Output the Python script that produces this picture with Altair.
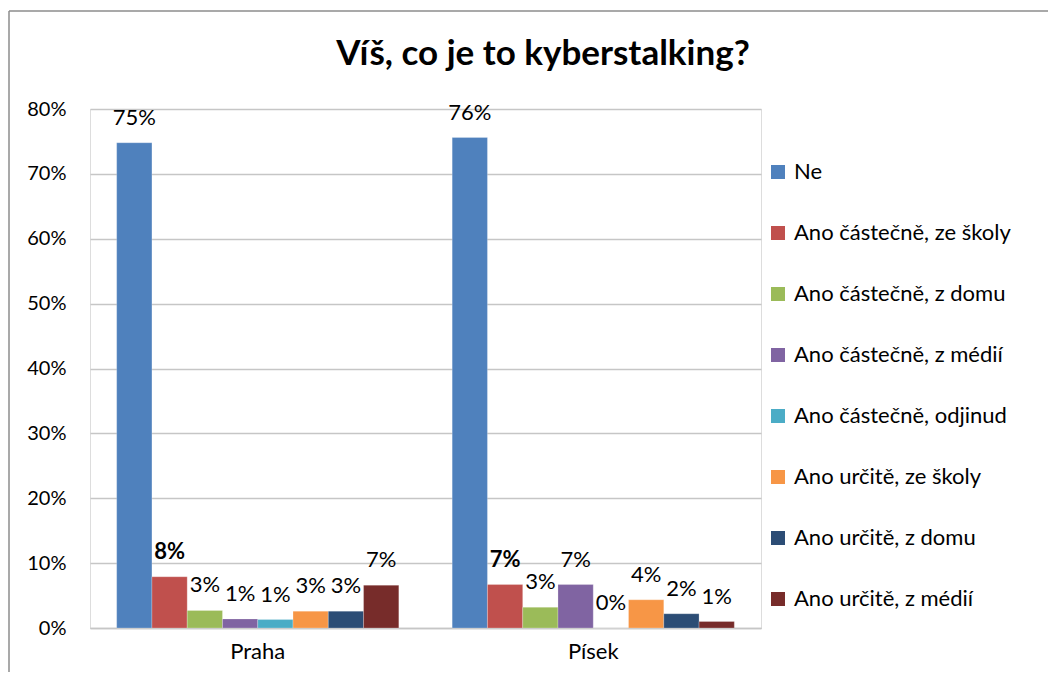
import altair as alt
import pandas as pd

series = ["Ne", "Ano částečně, ze školy", "Ano částečně, z domu", "Ano částečně, z médií",
          "Ano částečně, odjinud", "Ano určitě, ze školy", "Ano určitě, z domu", "Ano určitě, z médií"]
cities = ["Praha", "Písek"]
praha = [0.748, 0.079, 0.027, 0.014, 0.013, 0.026, 0.026, 0.066]
pisek = [0.756, 0.067, 0.032, 0.067, 0.0, 0.0435, 0.022, 0.010]
colors = ["#4F81BD", "#C0504D", "#9BBB59", "#8064A2", "#4BACC6", "#F79646", "#2C4D75", "#772C2A"]
y_ticks = [0, 0.1, 0.2, 0.3, 0.4, 0.5, 0.6, 0.7, 0.8]
title_text = "Víš, co je to kyberstalking?"

rows = []
for city, vals in zip(cities, [praha, pisek]):
    for s, v in zip(series, vals):
        rows.append({"city": city, "series": s, "value": v})
df = pd.DataFrame(rows)

FONT = "Lato"
GRID = "#C6C6C6"

x_enc = alt.X("city:N", sort=cities,
              scale=alt.Scale(paddingInner=0.159, paddingOuter=0.0795),
              axis=alt.Axis(title=None, labelAngle=0, domain=True, domainColor=GRID, domainWidth=1.5,
                            ticks=False, labelFontSize=22, labelFont=FONT, labelColor="#000000",
                            labelPadding=13))
xoff = alt.XOffset("series:N", sort=series, scale=alt.Scale(paddingInner=0, paddingOuter=0))
y_enc = alt.Y("value:Q", scale=alt.Scale(domain=[0, 0.8], nice=False),
              axis=alt.Axis(title=None, values=y_ticks, format=".0%", domain=False, ticks=False,
                            grid=True, gridColor=GRID, gridWidth=1.5, labelFontSize=20,
                            labelFont=FONT, labelColor="#000000", labelPadding=24))

bars = alt.Chart(df).mark_bar(stroke="#FFFFFF", strokeWidth=0.4, strokeOpacity=0.6).encode(
    x=x_enc, xOffset=xoff, y=y_enc,
    color=alt.Color("series:N", sort=series,
                    scale=alt.Scale(domain=series, range=colors),
                    legend=alt.Legend(title=None, orient="none", legendX=677, legendY=52,
                                      symbolType="square", symbolSize=196, symbolStrokeWidth=0,
                                      labelFontSize=22, labelFont=FONT, labelColor="#000000",
                                      labelOffset=5, rowPadding=39, padding=0, labelLimit=400))
)

labels_normal = alt.Chart(df).transform_filter(
    alt.datum.series != series[1]
).mark_text(baseline="alphabetic", dy=-18, fontSize=22, font=FONT, color="#000000").encode(
    x=alt.X("city:N", sort=cities), xOffset=xoff, y="value:Q",
    text=alt.Text("value:Q", format=".0%")
)
labels_bold = alt.Chart(df).transform_filter(
    alt.datum.series == series[1]
).mark_text(baseline="alphabetic", dy=-18, fontSize=22, font=FONT, fontWeight="bold",
            color="#000000").encode(
    x=alt.X("city:N", sort=cities), xOffset=xoff, y="value:Q",
    text=alt.Text("value:Q", format=".0%")
)

title = alt.Chart(alt.Data(values=[{"t": title_text}])).mark_text(
    fontSize=35, font=FONT, fontWeight="bold", color="#000000", baseline="alphabetic", align="center"
).encode(x=alt.value(453), y=alt.value(-44), text="t:N")

border_left = alt.Chart(alt.Data(values=[{"a": 1}])).mark_rule(
    stroke="#8C8C8C", strokeWidth=1.5
).encode(x=alt.value(-81), y=alt.value(-98), y2=alt.value(563))
border_top = alt.Chart(alt.Data(values=[{"a": 1}])).mark_rule(
    stroke="#8C8C8C", strokeWidth=1.5
).encode(x=alt.value(-81), x2=alt.value(958), y=alt.value(-98))

chart = alt.layer(border_left, border_top, bars, labels_normal, labels_bold, title).properties(
    width=671, height=519,
    autosize=alt.AutoSizeParams(type="none"),
    padding={"left": 82, "top": 101, "right": 287, "bottom": 44}
).configure_view(stroke=None).configure(background="#FFFFFF")

chart.save("out.html", embed_options={"renderer": "svg", "actions": False})
